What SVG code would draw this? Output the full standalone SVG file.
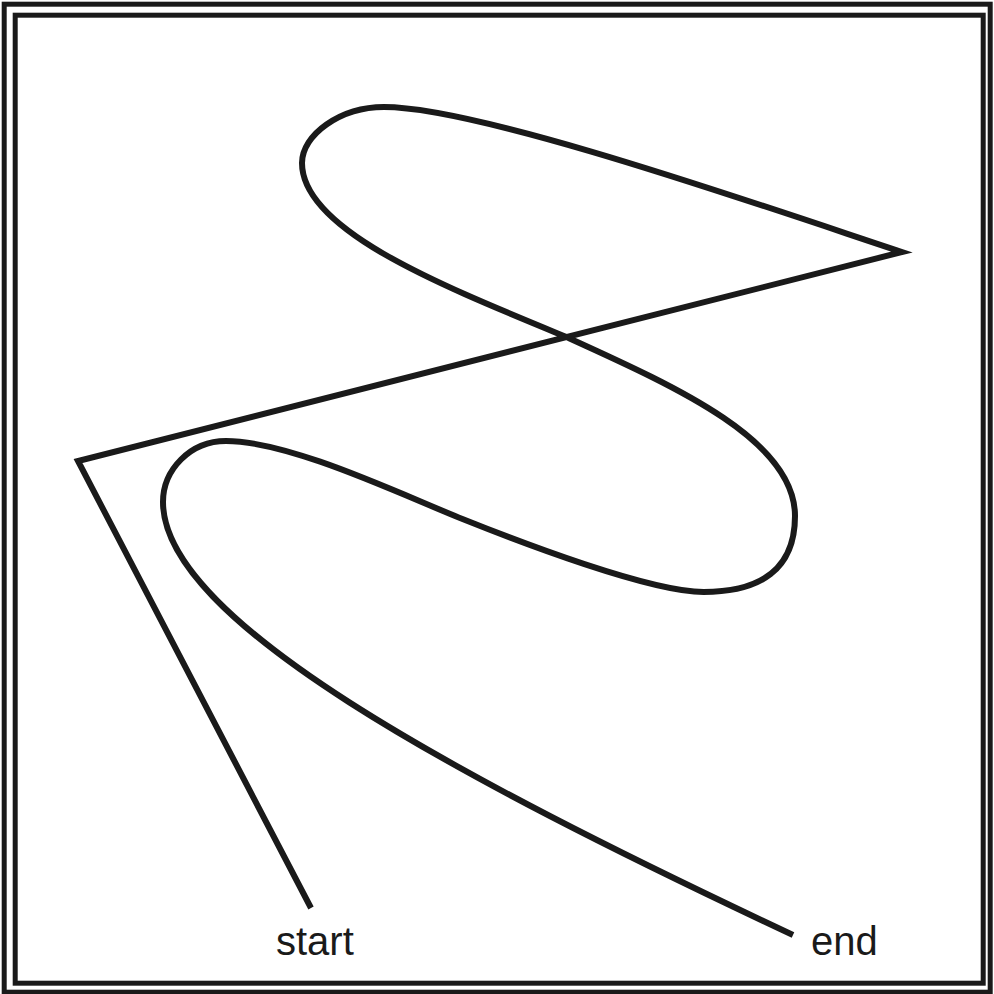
<svg xmlns="http://www.w3.org/2000/svg" width="994" height="994" viewBox="0 0 994 994">
  <style>
    .frame { fill: none; stroke: #1a1a1a; stroke-width: 5; }
    .curve { fill: none; stroke: #1a1a1a; stroke-width: 6; stroke-linejoin: miter; stroke-linecap: butt; }
    .label { font-family: "Liberation Sans", Arial, sans-serif; font-size: 40px; fill: #1a1a1a; }
  </style>
  <rect width="994" height="994" fill="#ffffff"/>
  <g id="frame">
    <rect class="frame" x="4.2" y="4.2" width="986" height="988"/>
    <rect class="frame" x="15.2" y="15.2" width="968" height="968"/>
  </g>
  <g id="connectors">
    <path class="curve" d="M311,908 L78,461 L902,252 C760,205 480,107 384,107 C340,107 302,135 302,163 C302,230 440,285 566.5,337 C676.5,387 795,440 795,516 C795,570 760,592 703.6,592 C650,592 520,542 462.5,519 C400,494 290,441 226,441 C190,441 163,470 163,502 C163,620 450,774 793,935"/>
  </g>
  <g id="start">
    <text class="label" x="276" y="955">start</text>
  </g>
  <g id="end">
    <text class="label" x="811" y="955">end</text>
  </g>
</svg>
